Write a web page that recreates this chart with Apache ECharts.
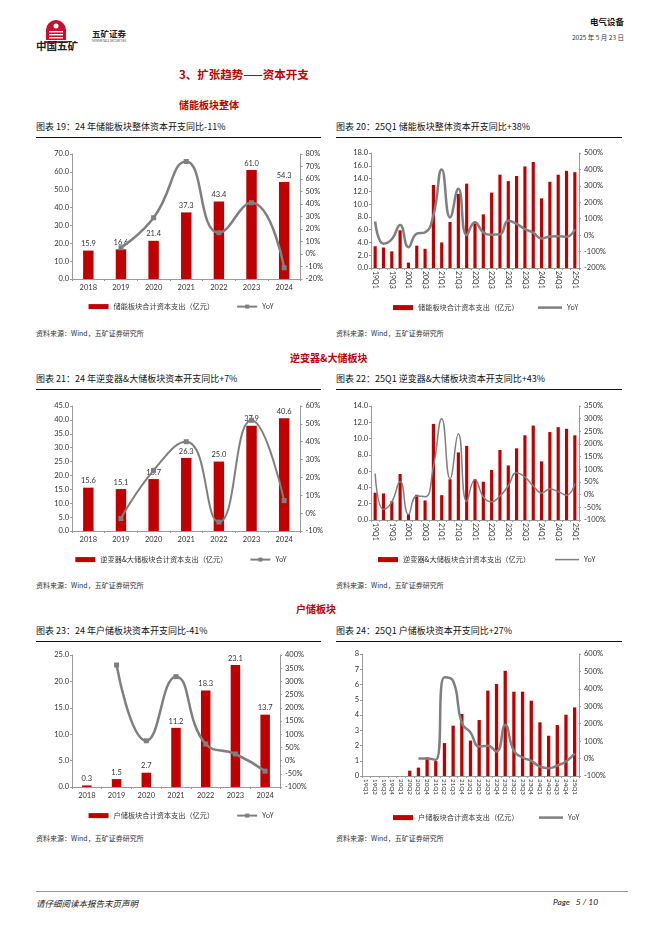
<!DOCTYPE html>
<html><head><meta charset="utf-8">
<script src="https://cdn.jsdelivr.net/npm/echarts/dist/echarts.min.js"></script>
<style>
html,body{margin:0;padding:0;background:#fff;}
body{width:662px;height:936px;position:relative;overflow:hidden;font-family:Lato,"Noto Sans CJK SC",sans-serif;color:#222;}
.a{position:absolute;white-space:nowrap;}
.t{font-size:9px;color:#111;font-family:"Noto Sans CJK SC",sans-serif;}
.ul{position:absolute;height:0;border-top:1px solid #111;}
.src{font-size:7px;color:#333;font-family:"Noto Sans CJK SC",sans-serif;}
.sec{font-size:10px;font-weight:bold;color:#C00000;font-family:"Noto Sans CJK SC",sans-serif;}
.ch{position:absolute;width:290px;height:182px;}
</style></head><body>
<!-- header -->
<svg class="a" style="left:44px;top:18px" width="24" height="26" viewBox="0 0 24 26">
<path d="M2 22 L2 12 A10 10 0 0 1 22 12 L22 22 Z" fill="#C8102E"/>
<rect x="5" y="13" width="14" height="1.4" fill="#fff"/>
<rect x="5" y="16" width="14" height="1.4" fill="#fff"/>
<rect x="5" y="19" width="14" height="1.4" fill="#fff"/>
<circle cx="12" cy="8" r="2.5" fill="#fff"/>
<rect x="0" y="23" width="24" height="2" fill="#C8102E"/>
</svg>
<div class="a" style="left:36px;top:38px;font-size:10.5px;font-weight:bold;font-family:'Noto Sans CJK SC';color:#222">中国五矿</div>
<div class="a" style="left:92px;top:27px;font-size:8.5px;font-weight:bold;font-family:'Noto Sans CJK SC';color:#222">五矿证券</div>
<div class="a" style="left:92px;top:39px;font-size:3px;color:#555;">MINMETALS SECURITIES</div>
<div class="a" style="right:38px;top:15px;font-size:8.5px;font-weight:bold;font-family:'Noto Sans CJK SC';color:#111">电气设备</div>
<div class="a" style="right:38px;top:32px;font-size:6.5px;font-family:'Noto Sans CJK SC';color:#333">2025 年 5 月 23 日</div>

<div class="a" style="left:179px;top:66px;font-size:11.5px;font-weight:bold;color:#C00000;font-family:'Noto Sans CJK SC'">3、扩张趋势——资本开支</div>
<div class="a sec" style="left:179px;top:97px">储能板块整体</div>

<div class="a t" style="left:36px;top:120px">图表 19：24 年储能板块整体资本开支同比-11%</div>
<div class="ul" style="left:36px;top:137px;width:285px"></div>
<div class="a t" style="left:336px;top:120px">图表 20：25Q1 储能板块整体资本开支同比+38%</div>
<div class="ul" style="left:336px;top:137px;width:286px"></div>
<div id="c1" class="ch" style="left:36px;top:140px"></div>
<div id="c2" class="ch" style="left:336px;top:140px"></div>
<div class="a src" style="left:36px;top:328px">资料来源：Wind，五矿证券研究所</div>
<div class="a src" style="left:336px;top:328px">资料来源：Wind，五矿证券研究所</div>

<div class="a sec" style="left:290px;top:350px">逆变器&amp;大储板块</div>
<div class="a t" style="left:36px;top:372px">图表 21：24 年逆变器&amp;大储板块资本开支同比+7%</div>
<div class="ul" style="left:36px;top:389px;width:285px"></div>
<div class="a t" style="left:336px;top:372px">图表 22：25Q1 逆变器&amp;大储板块资本开支同比+43%</div>
<div class="ul" style="left:336px;top:389px;width:286px"></div>
<div id="c3" class="ch" style="left:36px;top:392px"></div>
<div id="c4" class="ch" style="left:336px;top:392px"></div>
<div class="a src" style="left:36px;top:580px">资料来源：Wind，五矿证券研究所</div>
<div class="a src" style="left:336px;top:580px">资料来源：Wind，五矿证券研究所</div>

<div class="a sec" style="left:296px;top:601px">户储板块</div>
<div class="a t" style="left:36px;top:624px">图表 23：24 年户储板块资本开支同比-41%</div>
<div class="ul" style="left:36px;top:641px;width:285px"></div>
<div class="a t" style="left:336px;top:624px">图表 24：25Q1 户储板块资本开支同比+27%</div>
<div class="ul" style="left:336px;top:641px;width:286px"></div>
<div id="c5" class="ch" style="left:36px;top:642px;height:186px"></div>
<div id="c6" class="ch" style="left:336px;top:642px;height:186px"></div>
<div class="a src" style="left:36px;top:833px">资料来源：Wind，五矿证券研究所</div>
<div class="a src" style="left:336px;top:833px">资料来源：Wind，五矿证券研究所</div>

<div class="ul" style="left:36px;top:891px;width:592px;border-top:1px solid #999"></div>
<div class="a" style="left:36px;top:897px;font-size:8.5px;font-style:italic;font-family:'Noto Sans CJK SC';color:#222">请仔细阅读本报告末页声明</div>
<div class="a" style="left:553px;top:897px;font-size:8.5px;font-style:italic;color:#222">Page&nbsp;&nbsp;&nbsp;5 / 10</div>

<script>
// ---------- data ----------
const years = ['2018','2019','2020','2021','2022','2023','2024'];
const quarters = ['19Q1','19Q2','19Q3','19Q4','20Q1','20Q2','20Q3','20Q4','21Q1','21Q2','21Q3','21Q4','22Q1','22Q2','22Q3','22Q4','23Q1','23Q2','23Q3','23Q4','24Q1','24Q2','24Q3','24Q4','25Q1'];

const essAnnual = [15.9,16.6,21.4,37.3,43.4,61.0,54.3];
const essAnnualYoY = [null,5,29,74,17,41,-11];
const essQ = [3.4,3.2,2.6,5.9,0.85,3.5,3.0,13.0,4.0,7.2,11.6,13.2,7.0,8.4,11.8,14.6,13.6,14.4,15.9,16.6,10.9,13.5,14.6,15.2,15.0];
const essQYoY = [83,-52,-25,62,-73,9,17,120,400,108,283,0,79,17,3,5,87,69,37,15,-21,-8,-6,-10,36];

const invAnnual = [15.6,15.1,18.7,26.3,25.0,37.9,40.6];
const invAnnualYoY = [null,-3,24,40,-5,52,7];
const invQ = [3.35,3.26,2.3,5.65,0.7,3.1,2.4,11.8,3.05,5.0,8.3,9.1,5.0,4.7,6.15,8.6,6.7,8.8,10.4,11.6,7.2,10.8,11.4,11.2,10.4];
const invQYoY = [83,-58,-28,52,-78,-5,-8,110,300,63,240,-27,60,-8,-28,-5,35,87,69,35,7,22,12,-2,43];

const resAnnual = [0.3,1.5,2.7,11.2,18.3,23.1,13.7];
const resAnnualYoY = [null,362,75,318,63,25,-40];
const resQ = [0,0,0,0,0,0.35,0.55,1.22,0.98,2.16,3.3,4.07,2.32,3.67,5.6,6.03,6.9,5.53,5.53,4.94,3.52,2.64,3.34,4.02,4.5];
const resQYoY = [null,null,null,null,null,null,0,0,-8,466,445,203,150,69,73,40,193,44,6,-13,-46,-55,-40,-17,29];

const barName1 = '储能板块合计资本支出（亿元）';
const barName2 = '逆变器&大储板块合计资本支出（亿元）';
const barName3 = '户储板块合计资本支出（亿元）';

// ---------- styles ----------
const RED = '#C00000', GRAY = '#7F7F7F', AX = '#9a9a9a', TX = '#333';
const FONT = 'Lato, "Noto Sans CJK SC", sans-serif';
const LEGFONT = {fontSize:7.2, color:TX, fontFamily:'"Noto Sans CJK SC", sans-serif'};

function yAxisL(min, max, step, dec) {
  return {type:'value', min, max, interval:step, position:'left',
    axisLine:{show:true, lineStyle:{color:AX, width:1}},
    axisTick:{show:true, length:2, lineStyle:{color:AX}},
    splitLine:{show:false},
    axisLabel:{fontSize:7.5, color:TX, margin:3, fontFamily:FONT,
      formatter: v => Number(v).toFixed(dec)}};
}
function yAxisR(min, max, step) {
  return {type:'value', min, max, interval:step, position:'right',
    axisLine:{show:true, lineStyle:{color:AX, width:1}},
    axisTick:{show:true, length:2, lineStyle:{color:AX}},
    splitLine:{show:false},
    axisLabel:{fontSize:7.5, color:TX, margin:5, fontFamily:FONT, formatter:'{value}%'}};
}

function annual(id, grid, bars, yoy, barName, yl, yr, lineW, legTop) {
  const ch = echarts.init(document.getElementById(id), null, {renderer:'canvas'});
  ch.setOption({
    animation:false,
    textStyle:{fontFamily:FONT},
    grid,
    legend:{top:legTop, left:'center', itemWidth:20, itemHeight:5, itemGap:22, textStyle:LEGFONT,
      data:[{name:barName, icon:'rect'}, {name:'YoY'}]},
    xAxis:{type:'category', data:years,
      axisLine:{lineStyle:{color:AX}}, axisTick:{show:true, length:2, lineStyle:{color:AX}},
      axisLabel:{fontSize:7.5, color:TX, margin:5, fontFamily:FONT}},
    yAxis:[yAxisL(yl[0], yl[1], yl[2], 1), yAxisR(yr[0], yr[1], yr[2])],
    series:[
      {name:barName, type:'bar', data:bars, barWidth:'32%', itemStyle:{color:RED},
        label:{show:true, position:'top', distance:3, fontSize:7.5, color:TX, fontFamily:FONT,
          formatter: p => p.value.toFixed(1)}},
      {name:'YoY', type:'line', yAxisIndex:1, data:yoy, smooth:0.5, symbol:'rect', symbolSize:5,
        itemStyle:{color:GRAY}, lineStyle:{color:GRAY, width:lineW}, z:3}
    ]
  });
}

function quarterly(id, grid, bars, yoy, barName, yl, yr, dec, lblInterval, lblSize, lineW, legTop, legL1, legL2) {
  const ch = echarts.init(document.getElementById(id), null, {renderer:'canvas'});
  ch.setOption({
    animation:false,
    textStyle:{fontFamily:FONT},
    grid,
    legend:[
      {top:legTop, left:legL1, itemWidth:20, itemHeight:5, textStyle:LEGFONT,
        data:[{name:barName, icon:'rect'}]},
      {top:legTop, left:legL2, itemWidth:24, itemHeight:lineW, textStyle:LEGFONT,
        data:[{name:'YoY', icon:'rect', itemStyle:{color:GRAY}}]}
    ],
    xAxis:{type:'category', data:quarters,
      axisLine:{lineStyle:{color:AX}}, axisTick:{show:true, length:2, interval:0, lineStyle:{color:AX}},
      axisLabel:{fontSize:lblSize, color:TX, margin:3, rotate:-90, interval:lblInterval, fontFamily:FONT}},
    yAxis:[yAxisL(yl[0], yl[1], yl[2], dec), yAxisR(yr[0], yr[1], yr[2])],
    series:[
      {name:barName, type:'bar', data:bars, barWidth:'38%', itemStyle:{color:RED}},
      {name:'YoY', type:'line', yAxisIndex:1, data:yoy, smooth:0.5, symbol:'none',
        itemStyle:{color:GRAY}, lineStyle:{color:GRAY, width:lineW}, z:3}
    ]
  });
}

annual('c1', {left:36, top:14, width:249, height:125}, essAnnual, essAnnualYoY, barName1, [0,70,10], [-20,80,10], 2.5, 158);
quarterly('c2', {left:35, top:13, width:208, height:115}, essQ, essQYoY, barName1, [0,18,2], [-200,500,100], 1, 1, 7, 2.5, 159, 52, 197);
annual('c3', {left:36, top:14, width:249, height:125}, invAnnual, invAnnualYoY, barName2, [0,45,5], [-10,60,10], 2, 159);
quarterly('c4', {left:35, top:14, width:208, height:114}, invQ, invQYoY, barName2, [0,14,2], [-100,350,50], 1, 1, 7, 1.5, 159, 37, 214);
annual('c5', {left:36, top:13, width:208, height:132}, resAnnual, resAnnualYoY, barName3, [0,25,5], [-100,400,50], 2.5, 165);
quarterly('c6', {left:26, top:12, width:217, height:122}, resQ, resQYoY, barName3, [0,8,1], [-100,600,100], 0, 0, 6.3, 2.5, 167, 52, 198);
</script>
</body></html>
